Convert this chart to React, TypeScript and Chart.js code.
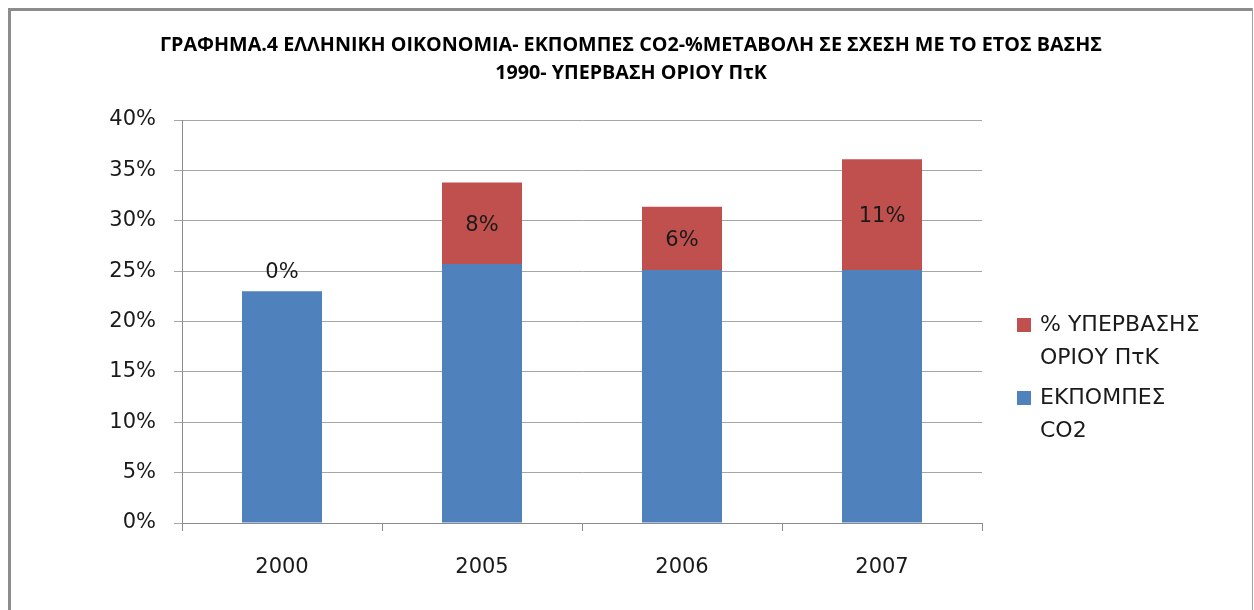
import React, { useEffect, useRef } from "react";
import { Chart, registerables } from "chart.js";

Chart.register(...registerables);

const titleLines = [
  "ΓΡΑΦΗΜΑ.4 ΕΛΛΗΝΙΚΗ ΟΙΚΟΝΟΜΙΑ- ΕΚΠΟΜΠΕΣ CO2-%ΜΕΤΑΒΟΛΗ ΣΕ ΣΧΕΣΗ ΜΕ ΤΟ ΕΤΟΣ ΒΑΣΗΣ",
  "1990- ΥΠΕΡΒΑΣΗ ΟΡΙΟΥ ΠτΚ",
];
const years = ["2000", "2005", "2006", "2007"];
const emissions = [23.0, 25.7, 25.1, 25.1];
const excess = [0, 8.1, 6.3, 11.0];
const excessLabels = ["0%", "8%", "6%", "11%"];
const seriesNames = [["% ΥΠΕΡΒΑΣΗΣ", "ΟΡΙΟΥ ΠτΚ"], ["ΕΚΠΟΜΠΕΣ", "CO2"]];
const yTicksMax = 40;
const yStep = 5;

const BLUE = "#4F81BD";
const RED = "#C0504D";
const FONT = "'DejaVu Sans', Verdana, sans-serif";

const decorPlugin = {
  id: "decor",
  beforeDraw(chart: any) {
    const ctx = chart.ctx;
    ctx.save();
    ctx.fillStyle = "#ffffff";
    ctx.fillRect(0, 0, chart.width, chart.height);
    ctx.fillStyle = "#8c8c8c";
    ctx.fillRect(8, 8, 1245, 3);
    ctx.fillRect(8, 8, 3, chart.height);
    ctx.fillStyle = "#a0a0a0";
    ctx.fillRect(1252, 8, 1, chart.height);
    ctx.restore();
  },
  afterDraw(chart: any) {
    const ctx = chart.ctx;
    ctx.save();
    // title
    ctx.fillStyle = "#000";
    ctx.textAlign = "center";
    ctx.textBaseline = "middle";
    let size = 18;
    ctx.font = `bold ${size}px 'Open Sans', sans-serif`;
    const w = ctx.measureText(titleLines[0]).width;
    size = size * 943 / w;
    ctx.font = `bold ${size.toFixed(2)}px 'Open Sans', sans-serif`;
    ctx.fillText(titleLines[0], 631, 45);
    ctx.fillText(titleLines[1], 631, 73);

    // data labels
    const meta0 = chart.getDatasetMeta(0);
    const meta1 = chart.getDatasetMeta(1);
    ctx.font = `21px ${FONT}`;
    ctx.fillStyle = "#1a1a1a";
    meta1.data.forEach((bar: any, i: number) => {
      const v = excess[i];
      let y;
      if (v === 0) {
        y = meta0.data[i].y - 19;
      } else {
        y = (bar.y + bar.base) / 2 + 2;
      }
      ctx.fillText(excessLabels[i], bar.x, y);
    });

    // legend
    const colors = [RED, BLUE];
    const ys = [325, 398];
    ctx.textAlign = "left";
    ctx.font = `22px ${FONT}`;
    seriesNames.forEach((lines, k) => {
      ctx.fillStyle = colors[k];
      ctx.fillRect(1017, ys[k] - 7, 14, 14);
      ctx.fillStyle = "#1a1a1a";
      lines.forEach((t, j) => {
        ctx.fillText(t, 1040, ys[k] + j * 33);
      });
    });
    ctx.restore();
  },
};

export default function App() {
  const ref = useRef<HTMLCanvasElement>(null);
  useEffect(() => {
    const chart = new Chart(ref.current!, {
      type: "bar",
      data: {
        labels: years,
        datasets: [
          { label: seriesNames[1].join(" "), data: emissions, backgroundColor: BLUE, stack: "s" },
          { label: seriesNames[0].join(" "), data: excess, backgroundColor: RED, stack: "s" },
        ],
      },
      options: {
        animation: false,
        responsive: false,
        maintainAspectRatio: false,
        layout: { padding: { top: 120, right: 272, left: 0, bottom: 0 } },
        plugins: { legend: { display: false }, title: { display: false }, tooltip: { enabled: false } },
        datasets: { bar: { categoryPercentage: 1, barPercentage: 0.4 } },
        scales: {
          x: {
            stacked: true,
            afterFit: (s: any) => { s.height = 87; },
            grid: { display: true, drawOnChartArea: false, drawTicks: true, tickLength: 8, color: "#8c8c8c", offset: true },
            border: { display: true, color: "#8c8c8c" },
            ticks: { color: "#1a1a1a", font: { family: FONT, size: 21 }, padding: 24 },
          },
          y: {
            stacked: true,
            min: 0,
            max: yTicksMax,
            afterFit: (s: any) => { s.width = 182; },
            grid: { color: "#a6a6a6", tickLength: 8 },
            border: { display: true, color: "#8c8c8c" },
            ticks: {
              stepSize: yStep,
              color: "#1a1a1a",
              font: { family: FONT, size: 21 },
              padding: 18,
              callback: (v: any) => v + "%",
            },
          },
        },
      },
      plugins: [decorPlugin],
    });
    return () => chart.destroy();
  }, []);
  return (
    <canvas
      ref={ref}
      width={1254}
      height={610}
      style={{ position: "fixed", left: 0, top: 0, width: 1254, height: 610 }}
    />
  );
}
